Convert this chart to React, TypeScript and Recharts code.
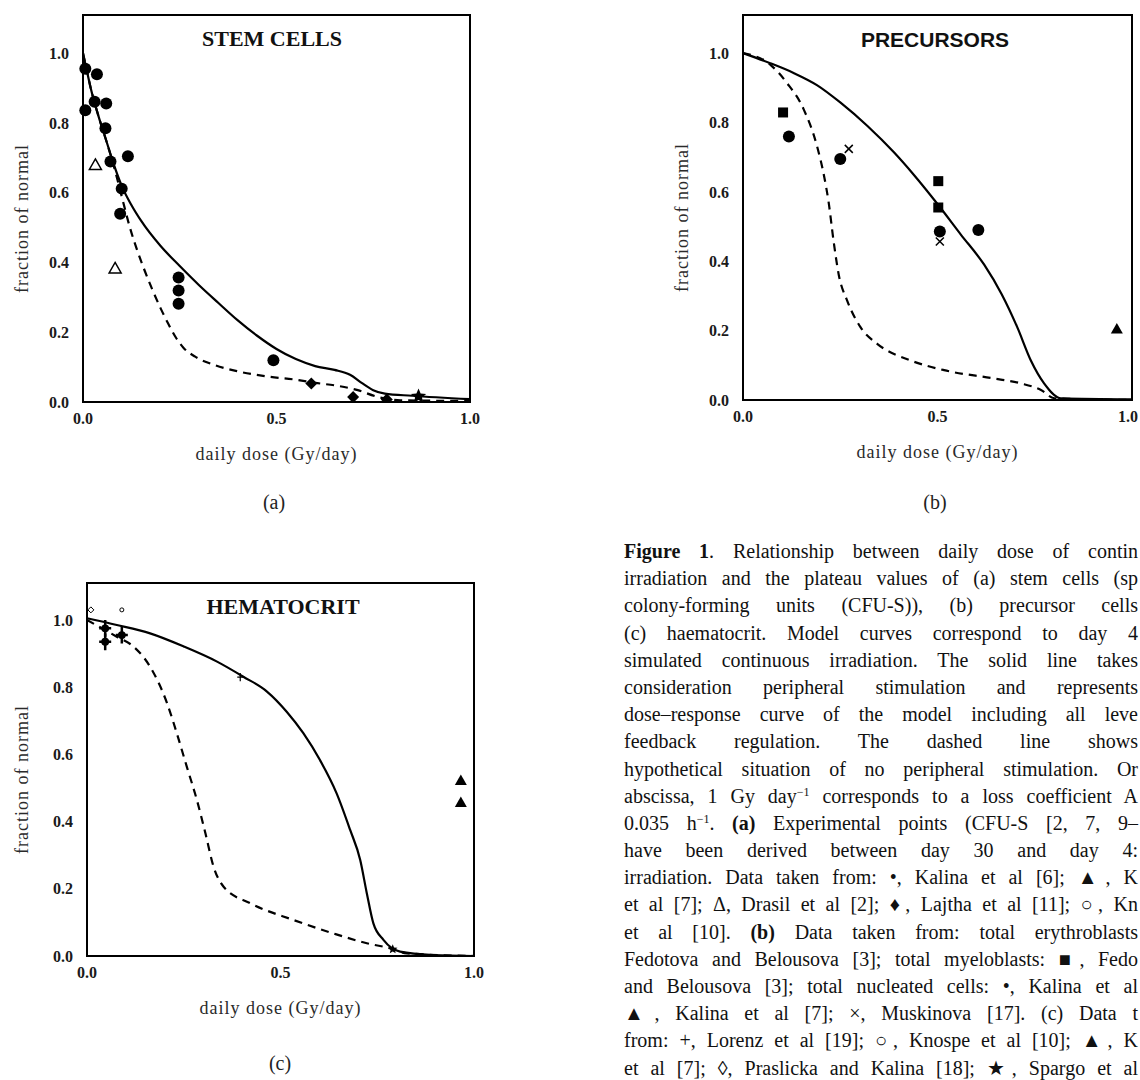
import React from "react";
import {
  ComposedChart,
  Line,
  Scatter,
  XAxis,
  YAxis,
  ReferenceArea,
} from "recharts";

type Pt = [number, number];

const xTicks = [0, 0.5, 1.0];
const yTicks = [0, 0.2, 0.4, 0.6, 0.8, 1.0];

// (a) stem cells
const stemSolid: Pt[] = [
  [0, 1.0], [0.01, 0.95], [0.02, 0.9], [0.04, 0.82], [0.06, 0.75], [0.08, 0.68],
  [0.1, 0.62], [0.125, 0.565], [0.15, 0.52], [0.2, 0.448], [0.25, 0.39],
  [0.3, 0.335], [0.35, 0.284], [0.4, 0.234], [0.45, 0.19], [0.5, 0.152],
  [0.55, 0.123], [0.6, 0.103], [0.65, 0.092], [0.69, 0.078], [0.72, 0.055],
  [0.75, 0.034], [0.78, 0.024], [0.85, 0.018], [1.0, 0.008],
];
const stemDashed: Pt[] = [
  [0, 1.0], [0.01, 0.95], [0.02, 0.9], [0.04, 0.82], [0.06, 0.75], [0.08, 0.675],
  [0.1, 0.59], [0.12, 0.505], [0.14, 0.435], [0.16, 0.375], [0.18, 0.32],
  [0.2, 0.27], [0.22, 0.225], [0.24, 0.185], [0.26, 0.155], [0.29, 0.13],
  [0.34, 0.106], [0.4, 0.088], [0.47, 0.074], [0.55, 0.064], [0.6, 0.055],
  [0.66, 0.046], [0.71, 0.034], [0.76, 0.015], [0.82, 0.005], [1.0, 0.003],
];
const stemKalina: Pt[] = [
  [0.006, 0.956], [0.036, 0.94], [0.006, 0.837], [0.03, 0.861], [0.06, 0.856],
  [0.058, 0.785], [0.071, 0.69], [0.116, 0.705], [0.1, 0.612], [0.096, 0.54],
  [0.247, 0.357], [0.247, 0.32], [0.247, 0.282], [0.492, 0.12],
];
const stemDrasil: Pt[] = [[0.032, 0.68], [0.083, 0.383]];
const stemLajtha: Pt[] = [[0.59, 0.053], [0.698, 0.014], [0.785, 0.007]];
const stemSpargo: Pt[] = [[0.867, 0.016]];

// (b) precursors
const precSolid: Pt[] = [
  [0, 1.0], [0.07, 0.971], [0.13, 0.943], [0.19, 0.908], [0.25, 0.858],
  [0.32, 0.79], [0.388, 0.714], [0.44, 0.648], [0.5, 0.565], [0.56, 0.477],
  [0.62, 0.39], [0.665, 0.305], [0.705, 0.21], [0.74, 0.114], [0.774, 0.048],
  [0.817, 0.005], [1.0, 0.002],
];
const precDashed: Pt[] = [
  [0, 1.0], [0.07, 0.967], [0.113, 0.914], [0.156, 0.838], [0.19, 0.733],
  [0.208, 0.648], [0.22, 0.571], [0.233, 0.457], [0.246, 0.362], [0.268, 0.286],
  [0.302, 0.21], [0.345, 0.162], [0.431, 0.114], [0.517, 0.086], [0.645, 0.062],
  [0.714, 0.048], [0.766, 0.029], [0.8, 0.005], [1.0, 0.0],
];
const precMyeloblasts: Pt[] = [[0.103, 0.829], [0.502, 0.631], [0.502, 0.555]];
const precNucleated: Pt[] = [[0.118, 0.76], [0.25, 0.695], [0.506, 0.486], [0.605, 0.49]];
const precMuskinova: Pt[] = [[0.272, 0.724], [0.506, 0.457]];
const precKalinaTri: Pt[] = [[0.961, 0.205]];

// (c) hematocrit
const hemSolid: Pt[] = [
  [0, 1.005], [0.077, 0.985], [0.163, 0.96], [0.25, 0.921], [0.336, 0.876],
  [0.404, 0.831], [0.465, 0.787], [0.516, 0.727], [0.559, 0.663], [0.602, 0.583],
  [0.645, 0.484], [0.68, 0.375], [0.706, 0.286], [0.723, 0.187], [0.74, 0.097],
  [0.766, 0.048], [0.809, 0.013], [0.895, 0.003], [1.0, 0.0],
];
const hemDashed: Pt[] = [
  [0, 1.0], [0.077, 0.95], [0.12, 0.921], [0.163, 0.861], [0.207, 0.752],
  [0.232, 0.663], [0.258, 0.563], [0.284, 0.464], [0.306, 0.365], [0.327, 0.266],
  [0.353, 0.206], [0.422, 0.157], [0.534, 0.107], [0.637, 0.067], [0.723, 0.038],
  [0.783, 0.023], [0.826, 0.008], [1.0, 0.0],
];
const hemLorenz: Pt[] = [[0.047, 0.975], [0.047, 0.935], [0.09, 0.955]];
const hemLorenzSmall: Pt[] = [[0.396, 0.83]];
const hemKalinaTri: Pt[] = [[0.966, 0.522], [0.966, 0.457]];
const hemPraslicka: Pt[] = [[0.01, 1.03]];
const hemKnospe: Pt[] = [[0.09, 1.03]];
const hemSpargo: Pt[] = [[0.79, 0.02]];

const rows = (pts: Pt[]) => pts.map(([x, y]) => ({ x, y }));

const SERIF = "'Liberation Serif', 'Times New Roman', serif";

function Marker({ cx, cy, kind, s }: any) {
  if (cx == null || cy == null) return null;
  switch (kind) {
    case "circle":
      return <circle cx={cx} cy={cy} r={s} fill="#000" />;
    case "openCircle":
      return <circle cx={cx} cy={cy} r={s} fill="#fff" stroke="#000" strokeWidth={1} />;
    case "square":
      return <rect x={cx - s} y={cy - s} width={2 * s} height={2 * s} fill="#000" />;
    case "triangle":
    case "openTriangle": {
      const d = `M${cx},${cy - s} L${cx + s},${cy + s * 0.75} L${cx - s},${cy + s * 0.75} Z`;
      return kind === "triangle" ? (
        <path d={d} fill="#000" />
      ) : (
        <path d={d} fill="#fff" stroke="#000" strokeWidth={1.5} />
      );
    }
    case "diamond":
    case "openDiamond": {
      const d = `M${cx},${cy - s} L${cx + s},${cy} L${cx},${cy + s} L${cx - s},${cy} Z`;
      return kind === "diamond" ? (
        <path d={d} fill="#000" />
      ) : (
        <path d={d} fill="#fff" stroke="#000" strokeWidth={1} />
      );
    }
    case "cross":
      return (
        <g stroke="#000" strokeWidth={1.5}>
          <line x1={cx - s} y1={cy - s} x2={cx + s} y2={cy + s} />
          <line x1={cx - s} y1={cy + s} x2={cx + s} y2={cy - s} />
        </g>
      );
    case "plus":
      return (
        <g stroke="#000" strokeWidth={s > 3 ? 2.5 : 1.2}>
          <line x1={cx - s} y1={cy} x2={cx + s} y2={cy} />
          <line x1={cx} y1={cy - s * 1.4} x2={cx} y2={cy + s * 1.4} />
          {s > 3 && <circle cx={cx} cy={cy} r={s * 0.45} fill="#000" />}
        </g>
      );
    case "star": {
      const pts: string[] = [];
      for (let i = 0; i < 10; i++) {
        const r = i % 2 === 0 ? s : s * 0.45;
        const a = -Math.PI / 2 + (i * Math.PI) / 5;
        pts.push(`${cx + r * Math.cos(a)},${cy + r * Math.sin(a)}`);
      }
      return <polygon points={pts.join(" ")} fill="#000" />;
    }
    default:
      return null;
  }
}

type SeriesDef = { pts: Pt[]; kind: string; s: number };

interface PanelProps {
  width: number;
  height: number;
  margin: { top: number; right: number; bottom: number; left: number };
  yWidth: number;
  solid: Pt[];
  dashed: Pt[];
  points: SeriesDef[];
  tightRight?: boolean;
}

const tickStyle = {
  fontSize: 16,
  fontFamily: SERIF,
  fontWeight: "bold",
  fill: "#1a1a1a",
};

function Panel({
  width,
  height,
  margin,
  yWidth,
  solid,
  dashed,
  points,
  tightRight,
}: PanelProps) {
  // x tick text; the last one may be pulled in so it stays on the page
  const xTick = (p: any) => {
    const v = Number(p.payload.value);
    const last = tightRight && v === 1;
    return (
      <text
        x={last ? p.x + 6 : p.x}
        y={p.y}
        dy="0.71em"
        textAnchor={last ? "end" : "middle"}
        {...tickStyle}
      >
        {v.toFixed(1)}
      </text>
    );
  };

  return (
    <ComposedChart width={width} height={height} margin={margin}>
      <XAxis
        dataKey="x"
        type="number"
        domain={[0, 1]}
        ticks={xTicks}
        interval={0}
        tick={xTick}
        tickLine={false}
        axisLine={false}
        tickSize={6}
        tickMargin={5}
        height={68}
        label={{
          value: "daily dose (Gy/day)",
          position: "insideBottom",
          offset: 10,
          fontSize: 18,
          letterSpacing: 1,
          fontFamily: SERIF,
          fill: "#2a2a2a",
        }}
      />
      <YAxis
        dataKey="y"
        type="number"
        domain={[0, 1.11]}
        allowDataOverflow
        ticks={yTicks}
        interval={0}
        tickFormatter={(v) => Number(v).toFixed(1)}
        tick={tickStyle}
        tickLine={false}
        axisLine={false}
        width={yWidth}
        tickSize={6}
        tickMargin={8}
        label={{
          content: (p: any) => {
            const vb = p.viewBox || { x: 0, y: 0, width: 0, height: 0 };
            const lx = vb.x + 22;
            const ly = vb.y + vb.height / 2 + 10;
            return (
              <text
                x={lx}
                y={ly}
                transform={`rotate(-90 ${lx} ${ly})`}
                textAnchor="middle"
                dominantBaseline="central"
                fontSize={18}
                letterSpacing={1}
                fontFamily={SERIF}
                fill="#2a2a2a"
              >
                fraction of normal
              </text>
            );
          },
        }}
      />
      <Line
        data={rows(solid)}
        dataKey="y"
        type="monotone"
        stroke="#000"
        strokeWidth={2.2}
        dot={false}
        activeDot={false}
        isAnimationActive={false}
      />
      <Line
        data={rows(dashed)}
        dataKey="y"
        type="monotone"
        stroke="#000"
        strokeWidth={2.2}
        strokeDasharray="8 6"
        dot={false}
        activeDot={false}
        isAnimationActive={false}
      />
      {points.map((ser, i) => (
        <Scatter
          key={i}
          data={rows(ser.pts)}
          dataKey="y"
          isAnimationActive={false}
          shape={(p: any) => <Marker cx={p.cx} cy={p.cy} kind={ser.kind} s={ser.s} />}
        />
      ))}
      <ReferenceArea
        x1={0}
        x2={1}
        y1={0}
        y2={1.11}
        fill="none"
        fillOpacity={0}
        stroke="#000"
        strokeWidth={2}
        ifOverflow="visible"
      />
    </ComposedChart>
  );
}

const abs = (left: number, top: number): React.CSSProperties => ({
  position: "absolute",
  left,
  top,
});

const centered = (
  left: number,
  top: number,
  extra: React.CSSProperties = {}
): React.CSSProperties => ({
  position: "absolute",
  left,
  top,
  transform: "translate(-50%, -50%)",
  whiteSpace: "nowrap",
  ...extra,
});

const supStyle: React.CSSProperties = {
  fontSize: 12,
  verticalAlign: "baseline",
  position: "relative",
  top: "-0.55em",
  lineHeight: 0,
};

const captionLines: React.ReactNode[] = [
  <>
    <b>Figure 1</b>. Relationship between daily dose of contin
  </>,
  "irradiation and the plateau values of (a) stem cells (sp",
  "colony-forming units (CFU-S)), (b) precursor cells",
  "(c) haematocrit. Model curves correspond to day 4",
  "simulated continuous irradiation. The solid line takes",
  "consideration peripheral stimulation and represents",
  "dose–response curve of the model including all leve",
  "feedback regulation. The dashed line shows",
  "hypothetical situation of no peripheral stimulation. Or",
  <>
    abscissa, 1 Gy day<sup style={supStyle}>−1</sup> corresponds to a loss coefficient A
  </>,
  <>
    0.035 h<sup style={supStyle}>−1</sup>. <b>(a)</b> Experimental points (CFU-S [2, 7, 9–
  </>,
  "have been derived between day 30 and day 4:",
  "irradiation. Data taken from: •, Kalina et al [6]; ▲, K",
  "et al [7]; Δ, Drasil et al [2]; ♦, Lajtha et al [11]; ○, Kn",
  <>
    et al [10]. <b>(b)</b> Data taken from: total erythroblasts
  </>,
  "Fedotova and Belousova [3]; total myeloblasts: ■, Fedo",
  "and Belousova [3]; total nucleated cells: •, Kalina et al",
  "▲, Kalina et al [7]; ×, Muskinova [17]. (c) Data t",
  "from: +, Lorenz et al [19]; ○, Knospe et al [10]; ▲, K",
  "et al [7]; ◊, Praslicka and Kalina [18]; ★, Spargo et al",
];

export default function App() {
  const titleSerif: React.CSSProperties = {
    fontFamily: SERIF,
    fontWeight: "bold",
    fontSize: 22,
    color: "#111",
  };
  const panelLabel: React.CSSProperties = {
    fontFamily: SERIF,
    fontSize: 20,
    color: "#222",
  };
  return (
    <div
      style={{
        position: "absolute",
        left: 0,
        top: 0,
        width: 1140,
        height: 1080,
        background: "#fff",
        overflow: "hidden",
      }}
    >
      <div style={abs(0, 0)}>
        <Panel
          width={500}
          height={470}
          margin={{ top: 15, right: 30, bottom: 0, left: 0 }}
          yWidth={83}
          solid={stemSolid}
          dashed={stemDashed}
          points={[
            { pts: stemKalina, kind: "circle", s: 6 },
            { pts: stemDrasil, kind: "openTriangle", s: 6 },
            { pts: stemLajtha, kind: "diamond", s: 6 },
            { pts: stemSpargo, kind: "star", s: 8 },
          ]}
        />
      </div>
      <div style={abs(660, 0)}>
        <Panel
          width={480}
          height={468}
          margin={{ top: 15, right: 8, bottom: 0, left: 0 }}
          yWidth={83}
          solid={precSolid}
          dashed={precDashed}
          tightRight
          points={[
            { pts: precMyeloblasts, kind: "square", s: 5 },
            { pts: precNucleated, kind: "circle", s: 6 },
            { pts: precMuskinova, kind: "cross", s: 4 },
            { pts: precKalinaTri, kind: "triangle", s: 6 },
          ]}
        />
      </div>
      <div style={abs(0, 540)}>
        <Panel
          width={500}
          height={484}
          margin={{ top: 43, right: 26, bottom: 0, left: 0 }}
          yWidth={87}
          solid={hemSolid}
          dashed={hemDashed}
          points={[
            { pts: hemLorenz, kind: "plus", s: 6 },
            { pts: hemLorenzSmall, kind: "plus", s: 3 },
            { pts: hemKalinaTri, kind: "triangle", s: 6 },
            { pts: hemPraslicka, kind: "openDiamond", s: 3 },
            { pts: hemKnospe, kind: "openCircle", s: 2 },
            { pts: hemSpargo, kind: "star", s: 5 },
          ]}
        />
      </div>

      <div style={centered(272, 39, titleSerif)}>STEM CELLS</div>
      <div
        style={centered(935, 40, {
          ...titleSerif,
          fontFamily: "'Liberation Sans', Arial, sans-serif",
          fontSize: 21,
        })}
      >
        PRECURSORS
      </div>
      <div style={centered(283, 607, titleSerif)}>HEMATOCRIT</div>

      <div style={centered(274, 502, panelLabel)}>(a)</div>
      <div style={centered(935, 502, panelLabel)}>(b)</div>
      <div style={centered(280, 1063, panelLabel)}>(c)</div>

      <div
        style={{
          position: "absolute",
          left: 624,
          top: 538,
          width: 514,
          fontFamily: SERIF,
          fontSize: 20,
          color: "#111",
        }}
      >
        {captionLines.map((ln, i) => (
          <div
            key={i}
            style={{
              width: 514,
              height: 27.2,
              lineHeight: "27.2px",
              textAlign: "justify",
              textAlignLast: "justify",
            }}
          >
            {ln}
          </div>
        ))}
      </div>
    </div>
  );
}
